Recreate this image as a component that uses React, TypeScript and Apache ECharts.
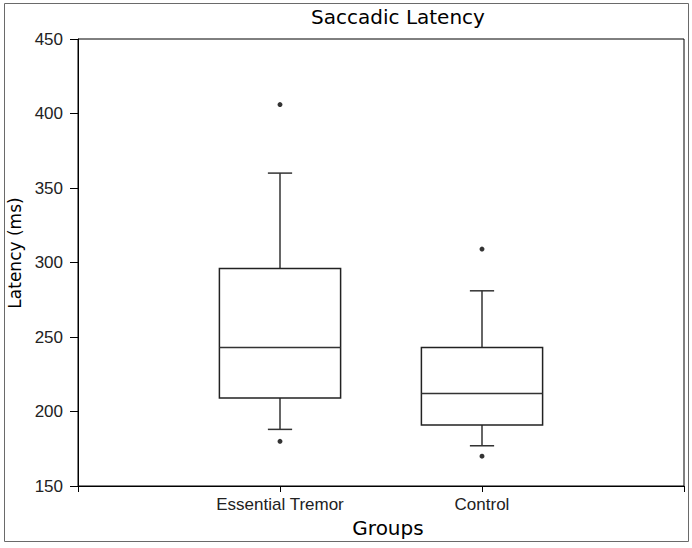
import React, { useEffect, useRef } from "react";
import * as echarts from "echarts";

const categories = ["", "Essential Tremor", "Control", ""];
// [categoryIndex, lowerWhisker, Q1, median, Q3, upperWhisker]
const boxStats = [
  [1, 188, 209, 243, 296, 360],
  [2, 177, 191, 212, 243, 281],
];
// [categoryIndex, value]
const outliers = [
  [1, 406],
  [1, 180],
  [2, 309],
  [2, 170],
];
const yMin = 150;
const yMax = 450;
const yStep = 50;

export default function App() {
  const ref = useRef<HTMLDivElement>(null);
  useEffect(() => {
    document.body.style.margin = "0";
    const chart = echarts.init(ref.current!, null, { renderer: "svg" });
    const tickFont = "'Liberation Sans', Arial, sans-serif";
    const labelFont = "'DejaVu Sans', sans-serif";
    chart.setOption({
      animation: false,
      backgroundColor: "#ffffff",
      grid: {
        left: 78,
        right: 8,
        top: 39,
        bottom: 62,
        containLabel: false,
        outerBoundsMode: "none",
        show: true,
        borderColor: "#000",
        borderWidth: 1,
        backgroundColor: "transparent",
      },
      graphic: [
        {
          type: "rect",
          shape: { x: 4.5, y: 3.5, width: 684, height: 538 },
          style: { fill: "none", stroke: "#6a6a6a", lineWidth: 1 },
          silent: true,
        },
        {
          type: "text",
          x: 398,
          y: 17,
          style: {
            text: "Saccadic Latency",
            font: `20px ${labelFont}`,
            fill: "#000",
            textAlign: "center",
            textVerticalAlign: "middle",
          },
        },
      ],
      xAxis: {
        type: "category",
        data: categories,
        boundaryGap: false,
        name: "Groups",
        nameLocation: "middle",
        nameGap: 32,
        nameTextStyle: {
          fontFamily: labelFont,
          fontSize: 20,
          color: "#000",
          padding: [0, 0, 0, 14],
        },
        axisLine: { show: true, lineStyle: { color: "#000", width: 1 } },
        axisTick: { show: true, interval: 0, length: 6, lineStyle: { color: "#000" } },
        axisLabel: {
          interval: 0,
          margin: 10,
          fontFamily: tickFont,
          fontSize: 17,
          color: "#222",
        },
        splitLine: { show: false },
      },
      yAxis: {
        type: "value",
        min: yMin,
        max: yMax,
        interval: yStep,
        name: "Latency (ms)",
        nameLocation: "middle",
        nameRotate: 90,
        nameGap: 53,
        nameTextStyle: {
          fontFamily: labelFont,
          fontSize: 17,
          color: "#000",
          padding: [0, 0, 0, 19],
        },
        axisLine: { show: true, lineStyle: { color: "#000", width: 1 } },
        axisTick: { show: true, length: 8, lineStyle: { color: "#000" } },
        axisLabel: {
          margin: 15,
          fontFamily: tickFont,
          fontSize: 17,
          color: "#222",
        },
        splitLine: { show: false },
      },
      series: [
        {
          type: "custom",
          data: boxStats,
          encode: { x: 0, y: [1, 2, 3, 4, 5] },
          renderItem: (params: any, api: any) => {
            const x = api.value(0);
            const band = api.size([1, 0])[0];
            const half = band * 0.3;
            const cap = band * 0.06;
            const pLo = api.coord([x, api.value(1)]);
            const pQ1 = api.coord([x, api.value(2)]);
            const pMed = api.coord([x, api.value(3)]);
            const pQ3 = api.coord([x, api.value(4)]);
            const pHi = api.coord([x, api.value(5)]);
            const cx = pLo[0];
            const lineStyle = { stroke: "#333", lineWidth: 1.5, fill: "none" };
            return {
              type: "group",
              children: [
                { type: "line", shape: { x1: cx, y1: pQ3[1], x2: cx, y2: pHi[1] }, style: lineStyle },
                { type: "line", shape: { x1: cx - cap, y1: pHi[1], x2: cx + cap, y2: pHi[1] }, style: lineStyle },
                { type: "line", shape: { x1: cx, y1: pQ1[1], x2: cx, y2: pLo[1] }, style: lineStyle },
                { type: "line", shape: { x1: cx - cap, y1: pLo[1], x2: cx + cap, y2: pLo[1] }, style: lineStyle },
                {
                  type: "rect",
                  shape: { x: cx - half, y: pQ3[1], width: half * 2, height: pQ1[1] - pQ3[1] },
                  style: { fill: "none", stroke: "#222", lineWidth: 1.5 },
                },
                { type: "line", shape: { x1: cx - half, y1: pMed[1], x2: cx + half, y2: pMed[1] }, style: { stroke: "#333", lineWidth: 1.5 } },
              ],
            };
          },
          z: 3,
        },
        {
          type: "scatter",
          data: outliers,
          symbol: "circle",
          symbolSize: 5,
          itemStyle: { color: "#000" },
          z: 4,
        },
      ],
    });
    return () => chart.dispose();
  }, []);
  return <div ref={ref} style={{ width: 692, height: 548 }} />;
}
